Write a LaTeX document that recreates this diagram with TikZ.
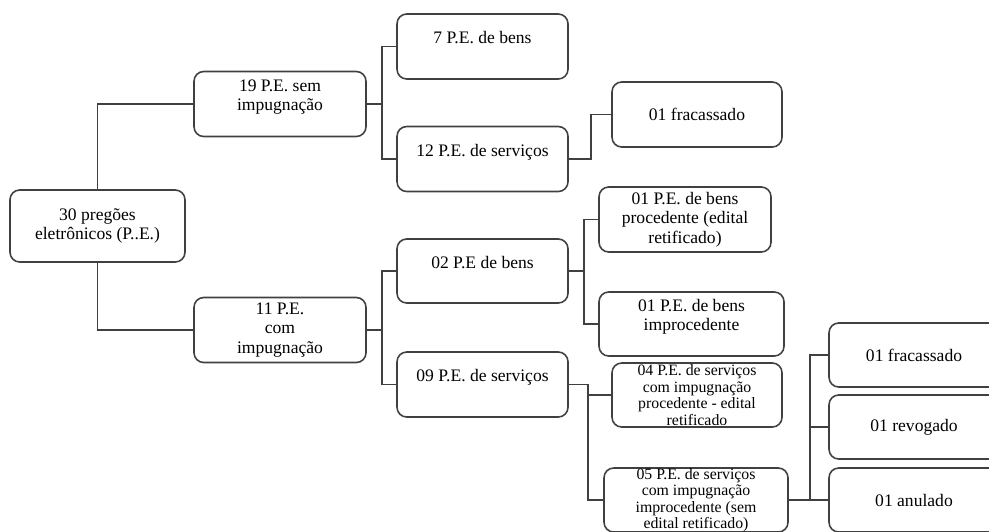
\documentclass[tikz,border=0pt]{standalone}
\usepackage{fontspec}
\setmainfont{Liberation Serif}
\usepackage{tikz}
\definecolor{borda}{gray}{0.25}
\newcommand{\ramo}[3]{
\draw[linha] (#1.east) -- ++(#3,0) |- (#2.west);
}

\begin{document}
\begin{tikzpicture}[x=0.02cm,y=-0.02cm,
  caixa/.style={draw=borda,line width=0.9pt,rounded corners=5.5pt,align=center,inner sep=1pt,
    minimum width=3.42cm,minimum height=1.3cm,font=\fontsize{10}{11}\selectfont},
  alto/.style={text depth=10pt},
  miudo/.style={font=\fontsize{9}{9.4}\selectfont,inner sep=0pt},
  linha/.style={draw=borda,line width=0.9pt}]
\useasboundingbox (0,0) rectangle (989,531);
\clip (0,0) rectangle (989,531);
\node[caixa,minimum width=3.5cm,minimum height=1.44cm] (raiz) at (97.5,226) {30 pregões\\eletrônicos (P..E.)};
\node[caixa,alto,minimum width=3.44cm] (semimp) at (280,104) {19 P.E. sem\\impugnação};
\node[caixa,minimum width=3.44cm] (comimp) at (280,330) {11 P.E.\\com\\impugnação};
\node[caixa,alto] (bens7) at (482.5,46.5) {7 P.E. de bens};
\node[caixa,alto] (serv12) at (482.5,159) {12 P.E. de serviços};
\node[caixa,minimum width=3.4cm] (fracA) at (697,114.5) {01 fracassado};
\node[caixa,alto,minimum height=1.28cm] (bens02) at (482.5,271) {02 P.E de bens};
\node[caixa,alto] (serv09) at (482.5,384.5) {09 P.E. de serviços};
\node[caixa,minimum width=3.44cm] (bensproc) at (685,219.5) {01 P.E. de bens\\procedente (edital\\retificado)};
\node[caixa,alto,minimum width=3.7cm,minimum height=1.28cm] (bensimproc) at (691.5,324) {01 P.E. de bens\\improcedente};
\node[caixa,miudo,minimum width=3.4cm,minimum height=1.28cm] (servproc) at (697,395) {04 P.E. de serviços\\com impugnação\\procedente - edital\\retificado};
\node[caixa,miudo,minimum width=3.68cm,minimum height=1.28cm] (servimproc) at (696,500) {05 P.E. de serviços\\com impugnação\\improcedente (sem\\edital retificado)};
\node[caixa,minimum width=3.4cm,minimum height=1.28cm] (fracB) at (914,355) {01 fracassado};
\node[caixa,minimum width=3.4cm,minimum height=1.28cm] (revog) at (914,427) {01 revogado};
\node[caixa,minimum width=3.4cm,minimum height=1.28cm] (anul) at (914,500) {01 anulado};
% ligacoes
\draw[linha] (raiz.north) |- (semimp.west);
\draw[linha] (raiz.south) |- (comimp.west);
\ramo{semimp}{bens7}{15.5}
\ramo{semimp}{serv12}{15.5}
\ramo{serv12}{fracA}{22}
\ramo{comimp}{bens02}{15.5}
\ramo{comimp}{serv09}{15.5}
\ramo{bens02}{bensproc}{15.5}
\ramo{bens02}{bensimproc}{15.5}
\ramo{serv09}{servproc}{19}
\ramo{serv09}{servimproc}{19}
\ramo{servimproc}{fracB}{21}
\ramo{servimproc}{revog}{21}
\ramo{servimproc}{anul}{21}
\end{tikzpicture}
\end{document}
